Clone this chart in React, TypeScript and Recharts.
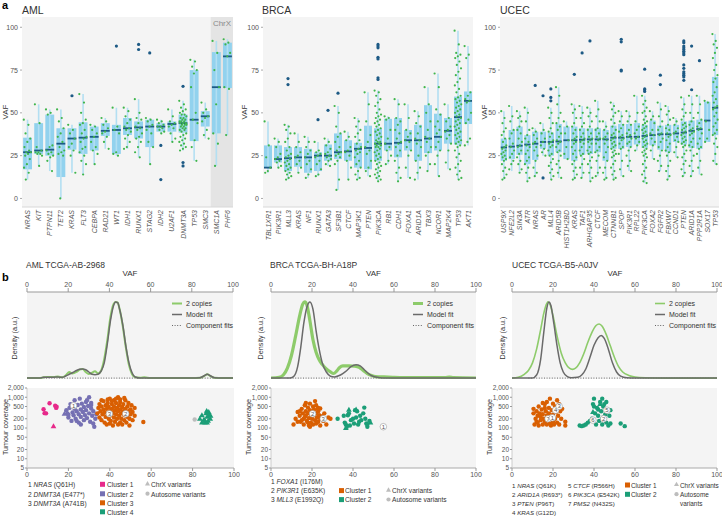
import React from 'react';
import {
  ComposedChart, ScatterChart, LineChart, Line, Scatter, XAxis, YAxis,
  ReferenceArea, ReferenceLine, CartesianGrid,
} from 'recharts';

const FONT = '"Liberation Sans", Arial, Helvetica, sans-serif';

// ---------------- Panel a data ----------------
const amlGenes = ['NRAS','KIT','PTPN11','TET2','KRAS','FLT3','CEBPA','RAD21','WT1','IDH1','RUNX1','STAG2','IDH2','U2AF1','DNMT3A','TP53','SMC3','SMC1A','PHF6'];
// [whiskerLow, q1, median, q3, whiskerHigh]
const amlBoxes = [
  [11,17,27,35.5,46],[19,26,28,44,55],[16,25,28.5,49,52],[0,12.5,32,41,52],[15,28.5,35,41,43],
  [14,26,35.5,44.5,61],[20,28,36,42,43],[29,36.5,39.5,44,47],[25,26,40,43,53],[29,37,41,47,53],
  [24,35,41.5,45,58],[20,30,42,46,47],[38,39,42,44,46],[33,39,43.5,45,52],[28,38.5,44,49,57],
  [22,33.5,46,75,81],[35,42,48,51,56],[19,38,65,85.5,92],[37,64.5,83,91,93],
];
const amlPoints = [
  [46,43,38,35,33,30,28,27,27,26,25,23,20,18,15,11],
  [55,44,30,28,27,27,26,26,25,19],
  [52,50,49,31,30,28,27,26,25,24,22,16],
  [52,47,45,41,38,36,33,30,28,27,26,25,0],
  [43,40,38,35,32,30,28,25,15],
  [61,56,50,46,44,43,40,38,36,35,33,30,29,27,25,22,20,14],
  [43,42,40,38,36,33,30,28,26,20],
  [47,45,43,41,39,38,36,33,29],
  [53,42,40,38,27,26,25],
  [53,51,48,46,44,42,41,40,39,37,35,33,30,29],
  [58,50,47,46,44,42,41,40,38,36,35,33,30,27,24],
  [47,46,45,43,42,40,38,33,30,20],
  [46,45,44,43,42,42,41,40,39,38],
  [52,48,45,44,43,42,41,38,35,33],
  [57,55,53,52,51,50,49,49,48,47,47,46,46,45,45,45,44,44,44,43,43,43,42,42,41,41,40,40,39,38,37,36,35,34,33,32,31,30,29,28],
  [81,80,77,75,73,65,50,46,44,34,30,22],
  [56,52,50,48,47,45,40,37,35],
  [92,85,75,65,55,38,32,19],
  [93,91,90,85,83,65,64,37],
];
const amlOutliers = [[],[],[],[],[60],[],[],[],[89],[],[90,87],[85],[31,11],[],[65.5,21,19],[],[],[],[]];

const brcaGenes = ['TBL1XR1','PIK3R1','MLL3','KRAS','NF1','RUNX1','GATA3','SF3B1','CTCF','MAP3K1','PTEN','PIK3CA','RB1','CDH1','FOXA1','ARID1A','TBX3','NCOR1','MAP2K4','TP53','AKT1'];
const brcaBoxes = [
  [15,18,18,31,45],[18,21,23,31,35],[11,16,23.5,30,43],[15,18.5,24,30,38],[12,15,24,29,36],
  [13,16,25,27,33],[19,22,25,31.5,35],[5,23,27,38,54],[11,22,27.5,34,39],[11,18,29,32.5,47],
  [13,17,29.5,42.5,62],[10,22,32,41,63],[20,28,32,46.5,48],[10,24,32.5,47,58],[12,28,34,40,55],
  [11,22,34,43,51],[16,26.5,35,54.5,65],[13,28,36,49.5,73],[17,32,39.5,47,55],[11,31.5,47.5,59.5,98],
  [31,43.5,57,62.5,89],
];
const brcaPoints = [
  [45,31,24,18,16,15],
  [35,33,30,26,24,23,22,21,19,18],
  [43,42,40,38,35,33,30,28,26,25,24,23,22,21,20,19,18,17,16,15,14,13,12,11],
  [38,33,30,27,25,24,22,20,18,15],
  [36,33,30,28,26,24,22,20,17,14,12],
  [33,28,27,26,25,24,22,20,17,14,13],
  [35,33,31,29,27,26,25,24,23,22,20,19],
  [54,50,42,38,36,33,30,28,27,26,25,24,22,20,11,5],
  [39,36,34,30,28,27,25,22,18,11],
  [47,45,42,40,38,36,34,32,30,29,28,27,26,24,22,20,18,16,14,12,11],
  [62,55,45,37,33,30,28,26,22,18,16,13],
  [63,62,60,58,56,54,52,50,49,48,47,46,45,44,43,42,41,40,39,38,37,36,35,34,33,33,32,32,31,31,30,30,29,28,27,26,25,24,23,22,21,20,19,18,17,16,15,14,13,12,11,10],
  [48,47,46,40,35,32,30,28,25,22,20],
  [58,55,47,45,43,40,38,35,33,32,30,28,25,22,18,15,12,10],
  [55,47,40,38,36,34,33,30,28,25,18,12],
  [51,48,44,42,38,35,34,32,30,25,22,18,15,11],
  [65,55,50,45,40,36,35,33,30,27,25,20,16],
  [73,65,52,49,45,42,40,38,36,33,30,28,25,20,13],
  [55,47,45,42,40,39,37,35,32,28,21,17],
  [98,90,85,84,83,82,80,78,76,74,72,70,68,66,64,62,60,59,58,57,56,55,54,53,52,51,50,49,48,47,46,45,44,43,42,41,40,39,38,37,36,35,34,33,32,31,30,28,26,24,22,20,18,16,14,12,11],
  [89,84,82,62,60,58,57,56,50,46,44,35,33,31],
];
const brcaOutliers = [[],[],[70,66.5],[],[],[46],[51.5],[61.5],[],[],[],[90,89,88,82.5,81.5,70.5,69.5],[],[],[],[],[],[],[],[],[]];

const ucecGenes = ['USP9X','NFE2L2','SIN3A','ATR','NRAS','AR','MLL4','ARID5B','HIST1H2BD','KRAS','TAF1','ARHGAP35','CTCF','MECOM','CTNNB1','SPOP','PIK3R1','RPL22','PIK3CA','FOXA2','FGFR2','FBXW7','CCND1','PTEN','ARID1A','PPP2R1A','SOX17','TP53'];
const ucecBoxes = [
  [11,22,29.8,35,51],[16,23,30.3,40,54],[15,25.5,30.8,42,51],[10,20,31.5,37,53],[13,22.5,32,39,41],
  [25,29,33,39,44],[11,25,33,38.5,53],[12,27,33.3,43.5,65],[23,23,34,42,45],[11,22,34,42,55],
  [12,25.5,34.3,41,54],[10,26,34.5,41,53],[13,27,34.5,41,57],[11,22,34.5,40,45],[11,29,35.5,42.5,56],
  [13,29,35.5,43.5,51],[16,30,36,43.5,51],[28,31.5,36,44,60],[9,29.5,36.5,43,60],[23,31,37,45.5,51],
  [16,28.5,37.5,42.5,56],[11,27,37.5,43,54],[24,33,38,43,47],[13,31.5,38.5,45,59],[13,29.5,39.5,45.5,60],
  [14,29,40.5,46,60],[33,33,45.5,56.5,57],[20,37,53,71,96],
];
const ucecPoints = [
  [51,47,44,41,39,37,35,33,31,30,29,28,27,26,25,24,23,22,20,18,16,14,12,11],
  [54,48,45,40,38,35,32,30,28,26,24,22,20,17],
  [51,48,47,45,42,40,38,35,33,31,30,28,26,24,22,20,17,15],
  [53,50,45,40,37,35,33,31,30,28,26,24,22,20,18,15,12,10],
  [41,39,37,35,33,32,30,28,25,22,18,15,13],
  [44,40,38,35,33,31,29,27,25],
  [53,50,47,44,41,39,38,36,34,33,32,31,30,28,26,25,23,21,19,17,15,13,11],
  [65,60,55,50,47,44,42,40,38,36,34,33,32,30,28,27,25,22,20,18,15,12],
  [45,42,38,34,30,26,23],
  [55,52,50,47,44,42,40,38,36,35,34,33,32,30,28,26,24,22,20,18,16,14,12,11],
  [54,50,47,44,42,40,38,36,35,34,33,32,30,28,26,25,23,20,18,15,12],
  [53,50,48,45,42,40,38,36,35,34,33,32,30,28,27,26,24,22,20,18,15,12,10],
  [57,52,48,45,41,40,38,36,35,34,32,30,28,27,25,22,18,15,13],
  [45,42,40,38,36,35,34,32,30,27,24,22,18,15,12,11],
  [56,54,52,50,48,46,44,42,40,38,37,36,35,34,33,32,31,30,29,28,27,26,25,24,22,20,18,16,14,12,11],
  [51,48,45,43,41,39,37,36,35,34,32,30,29,26,22,17,13],
  [51,48,45,43,40,38,37,36,35,33,32,30,28,25,22,19,16],
  [60,50,45,42,40,38,36,35,33,31,28],
  [60,57,55,53,51,50,48,46,45,44,43,42,41,40,39,38,37,36,35,34,33,32,31,30,29,28,27,26,25,24,22,20,18,16,14,12,10,9],
  [51,48,46,44,40,38,37,35,33,31,28,23],
  [56,52,48,45,42,40,38,37,35,33,30,28,25,22,19,16],
  [54,51,49,46,43,41,40,38,37,36,34,32,30,28,27,25,22,19,16,13,11],
  [47,45,43,41,39,38,36,34,33,30,27,24],
  [59,55,52,50,48,46,44,43,42,41,40,39,38,37,36,35,34,33,32,31,30,28,26,24,22,20,17,15,13],
  [60,55,50,47,45,43,41,40,39,38,37,35,33,31,30,28,25,22,19,16,13],
  [60,55,50,46,44,42,41,40,38,35,32,30,29,26,22,18,14],
  [57,56,45,40,35,33],
  [96,92,90,88,85,82,78,75,72,70,68,65,62,60,58,56,54,53,52,50,48,46,44,42,40,38,37,35,32,30,26,22,20],
];
const ucecOutliers = [[],[],[],[],[66],[60,12],[64,59,57],[],[],[72.5],[85],[92],[],[],[],[93,91.5,75,74.5],[],[],[75.5,64,63.5,62.5],[],[72,66.5],[],[],[92,91,89,88,87,86,85,84,78,76,74,73,72,71,69],[89,63.5],[80.5],[],[]];

// ---------------- Panel b density data: [VAF, density] ----------------
const amlCopies2 = [[0,0],[6,0],[8,0.01],[10,0.015],[13,0.015],[15,0.02],[17,0.01],[19,0.04],[20.5,0.08],[22,0.06],[24,0.08],[25.5,0.11],[27,0.12],[28.5,0.08],[30,0.055],[31.5,0.07],[33,0.09],[34.5,0.06],[36,0.1],[37.5,0.25],[39,0.5],[40.5,0.8],[42,0.97],[43,1.0],[44,0.99],[45,0.9],[46.5,0.68],[48,0.4],[49.5,0.17],[51,0.05],[52.5,0.01],[55,0.005],[57,0.01],[60,0],[80,0],[84,0.005],[86,0.025],[87.5,0.05],[89,0.025],[91,0.005],[95,0],[100,0]];
const amlModel = [[0,0],[6,0],[8,0.01],[10,0.012],[13,0.012],[15,0.015],[17,0.01],[19,0.03],[20.5,0.05],[22,0.07],[24,0.1],[25.5,0.115],[27,0.12],[28.5,0.11],[30,0.08],[31.5,0.05],[33,0.045],[34.5,0.05],[36,0.09],[37.5,0.2],[39,0.45],[40.5,0.75],[42,0.95],[43,1.0],[44,0.99],[45,0.9],[46.5,0.7],[48,0.42],[49.5,0.2],[51,0.07],[52.5,0.015],[55,0],[80,0],[84,0.005],[86,0.03],[87.5,0.05],[89,0.03],[91,0.005],[95,0],[100,0]];
const brcaCopies2 = [[0,0],[4,0.01],[6,0.04],[8,0.13],[10,0.3],[12,0.55],[14,0.82],[15.5,0.97],[16.5,1.0],[17.5,0.96],[19,0.75],[20.5,0.5],[22,0.34],[23.5,0.24],[25,0.18],[27,0.12],[29,0.08],[30.5,0.06],[32,0.09],[33.5,0.14],[35,0.16],[38,0.16],[41,0.155],[43,0.14],[45,0.1],[47,0.06],[49,0.035],[51,0.02],[55,0.015],[60,0.01],[70,0.005],[85,0.005],[87,0.012],[89,0.005],[100,0]];
const brcaModel = [[0,0],[9,0],[11,0.02],[13,0.15],[14.5,0.4],[16,0.72],[17.5,0.93],[19,1.0],[20.5,0.9],[22,0.62],[23.5,0.38],[25,0.2],[27,0.08],[29,0.025],[31,0.015],[33,0.03],[35,0.06],[37,0.1],[39,0.15],[41.5,0.175],[43.5,0.16],[45.5,0.11],[47.5,0.06],[50,0.02],[53,0.005],[56,0],[100,0]];
const ucecCopies2 = [[0,0],[3,0.01],[6,0.05],[8,0.1],[10,0.2],[12,0.38],[14,0.64],[15.5,0.85],[17,0.98],[17.5,1.0],[18.5,0.97],[20,0.82],[22,0.55],[24,0.33],[26,0.2],[28,0.13],[29.5,0.115],[31,0.13],[33,0.2],[35,0.32],[37,0.47],[39,0.6],[41,0.69],[42.5,0.71],[44,0.68],[46,0.57],[48,0.42],[50,0.27],[52,0.15],[54,0.08],[57,0.035],[60,0.015],[65,0.005],[75,0],[100,0]];
const ucecModel = [[0,0],[10,0],[12,0.04],[14,0.25],[15.5,0.6],[17,0.92],[18,1.0],[19,0.95],[20.5,0.7],[22,0.42],[23.5,0.2],[25,0.08],[27,0.02],[29,0.005],[32,0.01],[34,0.04],[36,0.12],[38,0.27],[40,0.43],[42,0.53],[43.5,0.56],[45,0.52],[47,0.38],[49,0.2],[51,0.08],[53,0.025],[56,0.003],[60,0],[100,0]];
const componentBase = [[8,0],[100,0]];

// ---------------- Panel b coverage data: [VAF, coverage] ----------------
const amlC1 = [[8,406],[10.9,640],[8.5,304],[9.2,300],[13.6,530],[14.3,490],[14.1,450]];
const amlC1Tri = [[12.8,114]];
const amlC2 = [[19,380],[19.5,300],[20,220],[20.5,450],[21,600],[21.5,170],[22,320],[22.5,260],[23,800],[23,420],[23.5,200],[24,350],[24.5,560],[25,280],[25,150],[25.5,900],[26,400],[26,230],[26.5,620],[27,330],[27.5,180],[27.5,480],[28,260],[28.5,700],[28.5,380],[29,210],[29.5,520],[30,1000],[30,300],[30.5,160],[31,430],[31,650],[31.5,250],[32,140],[32,350],[32.5,110],[33,200],[33.5,280],[22.5,520],[24,170],[26,130],[20,270],[29,800],[31,560]];
const amlC2Tri = [[18.1,290]];
const amlC3 = [[34,300],[34.5,450],[35,220],[35,600],[35.5,350],[36,180],[36,500],[36.5,280],[37,400],[37,750],[37.5,150],[37.5,320],[38,230],[38,550],[38.5,420],[38.5,130],[39,300],[39,650],[39.5,200],[39.5,480],[40,350],[40,900],[40.5,260],[40.5,170],[41,420],[41,600],[41.5,310],[41.5,120],[42,220],[42,500],[42,800],[42.5,380],[42.5,160],[43,280],[43,650],[43.5,450],[43.5,200],[44,350],[44,1000],[44.5,250],[44.5,550],[45,150],[45,400],[45,700],[45.5,300],[45.5,200],[46,480],[46,130],[46.5,350],[46.5,600],[47,260],[47,180],[47.5,420],[47.5,800],[48,300],[48,150],[48.5,500],[48.5,230],[49,350],[49,650],[49.5,200],[49.5,120],[50,400],[50,280],[50.5,550],[51,180],[51,330],[52,450],[52,250],[43,900],[41,750],[39,850],[45,850],[47,950],[36,800],[44,130],[40,140],[56.2,157]];
const amlC4Tri = [[83.5,200],[84.5,260],[85.5,190],[86,150],[86.5,300],[86.8,360],[87,230],[87.5,170],[87.8,330],[88,260],[88.5,200],[86,170],[84.5,150],[87,150],[88.7,250]];
const amlAuto = [[81,190]];
const amlLabels = [[22.5,530,'1'],[47.7,290,'2'],[39.8,290,'3']];

const brcaC1 = [[11,130],[12,200],[13,330],[14,250],[14.5,160],[15,420],[15.5,300],[16,200],[16,130],[16.5,550],[17,350],[17,250],[17.5,170],[18,460],[18,300],[18.5,210],[18.5,120],[19,620],[19,380],[19.5,270],[19.5,150],[20,330],[20,200],[20.5,500],[20.5,130],[21,260],[21,400],[21.5,180],[21.5,750],[22,300],[22,140],[22.5,220],[23,350],[23,160],[23.5,260],[24,200],[24,120],[25,240],[25.5,170],[26,300],[27,130],[28,220],[29,200],[17,650],[15,180],[13,160],[22,550],[19,110],[24,430],[18,150],[16.5,230],[20,260],[14,350],[23,450]];
const brcaC1Tri = [[22.6,430]];
const brcaC2 = [[32.5,200],[35.5,250],[36,150],[36.5,130],[37,110],[37.5,260],[38,300],[38.5,120],[39,180],[40,200],[40.5,140],[41,380],[41.5,220],[42,350],[42.5,130],[43,160],[43.5,250],[44,180],[45,300],[45.5,460],[46,200],[46.5,140],[47,130],[47,110],[48,170]];
const brcaC2Tri = [[38,390],[41.5,400],[48.5,150],[36.5,100]];
const brcaAuto = [[54.8,110]];
const brcaLabels = [[54.8,110,'1'],[20.3,290,'2'],[25.5,200,'3']];

const ucecC1 = [[10.5,420],[10.5,300],[11,130],[11.5,200],[12,160],[12,350],[12.5,250],[13,500],[13,120],[13.5,300],[14,180],[14,230],[14.5,400],[15,130],[15,280],[15.5,200],[16,600],[16,160],[16.5,350],[17,250],[17,130],[17.5,180],[18,450],[18,300],[18.5,900],[18.5,140],[19,220],[19.5,380],[20,270],[20,160],[20.5,130],[21,500],[21,200],[21.5,330],[22,800],[22,150],[22.5,250],[23,600],[23,130],[24,200],[24.5,420],[26,160],[26,120],[19,120],[15,650],[17,700],[12.5,150],[16,450],[20,620],[23.5,350]];
const ucecC2 = [[33,120],[34,115],[35,120],[36,130],[37,150],[38,170],[39,200],[39.5,600],[40,900],[40.5,300],[41,130],[41.5,450],[42,250],[42.5,170],[43,700],[43.5,350],[44,130],[44,900],[44.5,500],[45,200],[45.5,280],[46,700],[46,150],[46.5,350],[47,120],[47.5,250],[48,380],[48,140],[44,200],[42,400],[53,140],[55,115],[40,500],[45,600]];
const ucecC2Tri = [[39.5,330],[44,210],[43,600]];
const ucecLabels = [[17.6,200,'7'],[19.7,215,'1'],[21.3,380,'4'],[23,510,'3'],[39.5,180,'6'],[44.7,200,'2'],[46.3,380,'5']];

const covTicks = [5,10,20,50,100,200,500,1000,2000];
const vafTicks = [0,20,40,60,80,100];

// ---------------- helpers ----------------
const C_PINK = '#e7298a', C_PURPLE = '#7570b3', C_ORANGE = '#d95f02', C_TEAL = '#1b9e77', C_AUTO = '#bdbdbd';
const BG = '#f4f4f4';
const LF = 6.6; // legend font size

const jit = (j: number) => (((j * 0.618034) % 1) - 0.5) * 0.68;
const toXY = (arr: any[]) => arr.map((p) => ({ x: p[0], y: p[1], l: p[2] }));

const dot = (r: number, c: string) => (p: any) => <circle cx={p.cx} cy={p.cy} r={r} fill={c} />;
const triShape = (s: number, c: string) => (p: any) => (
  <path d={`M${p.cx},${p.cy - s} L${p.cx + s * 0.95},${p.cy + s * 0.65} L${p.cx - s * 0.95},${p.cy + s * 0.65} Z`} fill={c} />
);
const labelShape = (p: any) => (
  <g>
    <circle cx={p.cx} cy={p.cy} r={3.3} fill="#fff" stroke="#999" strokeWidth={0.6} />
    <text x={p.cx} y={p.cy + 2.2} textAnchor="middle" fontSize={6} fill="#555" fontFamily={FONT}>{p.payload.l}</text>
  </g>
);

const makeGeneTick = (genes: string[]) => (props: any) => {
  const { x, y, payload } = props;
  const name = genes[Math.floor(payload.value)];
  return (
    <text transform={`translate(${x + 2.5},${y}) rotate(-90)`} textAnchor="end" fontSize={7} fontStyle="italic" fill="#555" fontFamily={FONT}>
      {name}
    </text>
  );
};

function BoxPanel(props: any) {
  const { left, width, rightMargin, genes, boxes, pts, outs, chrX } = props;
  const n = genes.length;
  const green: any[] = [];
  const blue: any[] = [];
  pts.forEach((arr: number[], i: number) => arr.forEach((v, j) => green.push({ x: i + 0.5 + jit(j), y: v })));
  outs.forEach((arr: number[], i: number) => arr.forEach((v) => blue.push({ x: i + 0.5, y: v })));
  const half = 0.4;
  const ticks = genes.map((_: string, i: number) => i + 0.5);
  return (
    <div style={{ position: 'absolute', left, top: 0 }}>
      <ComposedChart width={width} height={260} margin={{ top: 17, right: rightMargin, left: 0, bottom: 0 }}>
        <CartesianGrid fill={BG} stroke="none" horizontal={false} vertical={false} />
        {chrX ? <ReferenceArea x1={chrX[0]} x2={chrX[1]} fill="#e4e4e4" fillOpacity={1} stroke="none" /> : null}
        {boxes.map((b: number[], i: number) => (
          <ReferenceLine key={'w' + i} segment={[{ x: i + 0.5, y: b[0] }, { x: i + 0.5, y: b[4] }]} stroke="#b3dff2" strokeWidth={1.6} />
        ))}
        {boxes.map((b: number[], i: number) => (
          <ReferenceArea key={'b' + i} x1={i + 0.5 - half} x2={i + 0.5 + half} y1={b[1]} y2={b[3]} fill="#92d2ee" fillOpacity={1} stroke="none" />
        ))}
        <Scatter data={green} shape={dot(1.1, '#3fb54b')} isAnimationActive={false} />
        {boxes.map((b: number[], i: number) => (
          <ReferenceLine key={'m' + i} segment={[{ x: i + 0.5 - half, y: b[2] }, { x: i + 0.5 + half, y: b[2] }]} stroke="#1d5a85" strokeWidth={1.8} />
        ))}
        <Scatter data={blue} shape={dot(1.6, '#1d5a85')} isAnimationActive={false} />
        <XAxis type="number" dataKey="x" domain={[0, n]} ticks={ticks} interval={0} height={53}
          tick={makeGeneTick(genes)} tickLine={false} tickSize={0} tickMargin={3} axisLine={{ stroke: '#d8d8d8' }} />
        <YAxis type="number" dataKey="y" domain={[-5, 106]} ticks={[0, 25, 50, 75, 100]} interval={0} width={22}
          tick={{ fontSize: 7, fill: '#555', fontFamily: FONT }} tickSize={2} tickMargin={2}
          tickLine={{ stroke: '#aaa' }} axisLine={false} allowDataOverflow />
      </ComposedChart>
    </div>
  );
}

function DensityPanel(props: any) {
  const { left, width, rightMargin, c2, model, greenW } = props;
  return (
    <div style={{ position: 'absolute', left, top: 262 }}>
      <LineChart width={width} height={117} margin={{ top: 10, right: rightMargin, left: 27, bottom: 0 }}>
        <CartesianGrid fill={BG} stroke="none" horizontal={false} vertical={false} />
        <XAxis type="number" dataKey="x" orientation="top" domain={[0, 100]} ticks={vafTicks} interval={0} height={20}
          tick={{ fontSize: 7, fill: '#555', fontFamily: FONT }} tickSize={4} tickMargin={1}
          tickLine={{ stroke: '#999' }} axisLine={{ stroke: '#999' }} allowDataOverflow />
        <YAxis type="number" dataKey="y" hide domain={[-0.012, 1.13]} allowDataOverflow />
        <Line data={toXY(componentBase)} dataKey="y" stroke="#555" strokeWidth={0.9} strokeDasharray="1 1.6" dot={false} isAnimationActive={false} />
        <Line data={toXY(c2)} dataKey="y" type="monotone" stroke="#8dcb6a" strokeWidth={greenW} dot={false} isAnimationActive={false} />
        <Line data={toXY(model)} dataKey="y" type="monotone" stroke="#6a6a6a" strokeWidth={1.5} dot={false} isAnimationActive={false} />
      </LineChart>
    </div>
  );
}

function CoveragePanel(props: any) {
  const { left, width, rightMargin, series, labels } = props;
  return (
    <div style={{ position: 'absolute', left, top: 385 }}>
      <ScatterChart width={width} height={97} margin={{ top: 3, right: rightMargin, left: 0, bottom: 0 }}>
        <CartesianGrid fill={BG} stroke="none" horizontal={false} vertical={false} />
        <XAxis type="number" dataKey="x" domain={[0, 100]} ticks={vafTicks} interval={0} height={14}
          tick={{ fontSize: 7, fill: '#555', fontFamily: FONT }} tickSize={3} tickMargin={1}
          tickLine={{ stroke: '#999' }} axisLine={{ stroke: '#aaa' }} allowDataOverflow />
        <YAxis type="number" dataKey="y" scale="log" domain={[5, 2000]} ticks={covTicks} interval={0} width={27}
          tickFormatter={(v: number) => v.toLocaleString('en-US')}
          tick={{ fontSize: 6.5, fill: '#555', fontFamily: FONT }} tickSize={2} tickMargin={1}
          tickLine={{ stroke: '#999' }} axisLine={{ stroke: '#ccc' }} allowDataOverflow />
        {series.map((s: any, i: number) => (
          <Scatter key={i} data={toXY(s.data)} shape={s.tri ? triShape(3, s.color) : dot(2.2, s.color)} isAnimationActive={false} />
        ))}
        <Scatter data={toXY(labels)} shape={labelShape} isAnimationActive={false} />
      </ScatterChart>
    </div>
  );
}

const T = (p: any) => (
  <text fontFamily={FONT} fill={p.fill || '#333'} fontSize={p.size || LF} fontWeight={p.bold ? 'bold' : 'normal'}
    textAnchor={p.anchor || 'start'} x={p.x} y={p.y}
    transform={p.rot ? `rotate(-90 ${p.x} ${p.y})` : undefined}>{p.children}</text>
);

const Note = ({ x, y, n, g, m, size }: any) => (
  <text x={x} y={y} fontFamily={FONT} fontSize={size || LF} fill="#333">
    {n + ' '}<tspan fontStyle="italic">{g}</tspan>{' (' + m + ')'}
  </text>
);

const DensLegend = ({ x, gw }: any) => (
  <g>
    <line x1={x} x2={x + 10} y1={303.5} y2={303.5} stroke="#8dcb6a" strokeWidth={gw} />
    <T x={x + 14} y={306} size={7}>2 copies</T>
    <line x1={x} x2={x + 10} y1={314.5} y2={314.5} stroke="#6a6a6a" strokeWidth={1.5} />
    <T x={x + 14} y={317} size={7}>Model fit</T>
    <line x1={x} x2={x + 10} y1={325.5} y2={325.5} stroke="#555" strokeWidth={0.9} strokeDasharray="1 1.6" />
    <T x={x + 14} y={328} size={7}>Component fits</T>
  </g>
);

const Sq = ({ x, y, c }: any) => <rect x={x} y={y - 5.2} width={5} height={5} fill={c} />;
const TriL = ({ x, y }: any) => <path d={`M${x + 2.5},${y - 6} L${x + 5},${y - 1.6} L${x},${y - 1.6} Z`} fill={C_AUTO} />;
const DotL = ({ x, y }: any) => <circle cx={x + 2.5} cy={y - 2.8} r={2.1} fill={C_AUTO} />;

export default function App() {
  return (
    <div style={{ position: 'absolute', left: 0, top: 0, width: 722, height: 517, background: '#fff', overflow: 'hidden' }}>
      <BoxPanel left={0} width={240} rightMargin={7} genes={amlGenes} boxes={amlBoxes} pts={amlPoints} outs={amlOutliers} chrX={[17, 19]} />
      <BoxPanel left={241} width={240} rightMargin={8} genes={brcaGenes} boxes={brcaBoxes} pts={brcaPoints} outs={brcaOutliers} />
      <BoxPanel left={478} width={244} rightMargin={3} genes={ucecGenes} boxes={ucecBoxes} pts={ucecPoints} outs={ucecOutliers} />

      <DensityPanel left={0} width={240} rightMargin={7} c2={amlCopies2} model={amlModel} greenW={2} />
      <DensityPanel left={244} width={240} rightMargin={8} c2={brcaCopies2} model={brcaModel} greenW={3.2} />
      <DensityPanel left={485} width={237} rightMargin={5} c2={ucecCopies2} model={ucecModel} greenW={1.6} />

      <CoveragePanel left={0} width={240} rightMargin={6} labels={amlLabels} series={[
        { data: amlAuto, color: C_AUTO },
        { data: amlC1, color: C_PINK }, { data: amlC1Tri, color: C_PINK, tri: true },
        { data: amlC2, color: C_PURPLE }, { data: amlC2Tri, color: C_PURPLE, tri: true },
        { data: amlC3, color: C_ORANGE },
        { data: amlC4Tri, color: C_TEAL, tri: true },
      ]} />
      <CoveragePanel left={244} width={240} rightMargin={8} labels={brcaLabels} series={[
        { data: brcaAuto, color: C_AUTO },
        { data: brcaC1, color: C_ORANGE }, { data: brcaC1Tri, color: C_ORANGE, tri: true },
        { data: brcaC2, color: C_TEAL }, { data: brcaC2Tri, color: C_TEAL, tri: true },
      ]} />
      <CoveragePanel left={485} width={237} rightMargin={5} labels={ucecLabels} series={[
        { data: ucecC1, color: C_ORANGE },
        { data: ucecC2, color: C_TEAL }, { data: ucecC2Tri, color: C_TEAL, tri: true },
      ]} />

      <svg width={722} height={517} style={{ position: 'absolute', left: 0, top: 0, pointerEvents: 'none' }}>
        {/* panel a */}
        <T x={2} y={9} size={11} bold fill="#000">a</T>
        <T x={22} y={14} size={10.5}>AML</T>
        <T x={262} y={14} size={10.5}>BRCA</T>
        <T x={500} y={14} size={10.5}>UCEC</T>
        <T x={8} y={112} size={8} rot anchor="middle">VAF</T>
        <T x={247} y={112} size={8} rot anchor="middle">VAF</T>
        <T x={487} y={112} size={8} rot anchor="middle">VAF</T>
        <T x={222} y={26} size={8} anchor="middle" fill="#8a8a8a">ChrX</T>

        {/* panel b */}
        <T x={2} y={281} size={11} bold fill="#000">b</T>
        <T x={26} y={268} size={8.5}>AML TCGA-AB-2968</T>
        <T x={270} y={268} size={8.5}>BRCA TCGA-BH-A18P</T>
        <T x={512} y={268} size={8.5}>UCEC TCGA-B5-A0JV</T>
        <T x={130} y={276} size={8} anchor="middle">VAF</T>
        <T x={373.5} y={276} size={8} anchor="middle">VAF</T>
        <T x={615} y={276} size={8} anchor="middle">VAF</T>
        <T x={17} y={338} size={7.2} rot anchor="middle">Density (a.u.)</T>
        <T x={263} y={338} size={7.2} rot anchor="middle">Density (a.u.)</T>
        <T x={505} y={338} size={7.2} rot anchor="middle">Density (a.u.)</T>
        <T x={8} y={427} size={7.2} rot anchor="middle">Tumour coverage</T>
        <T x={250.5} y={427} size={7.2} rot anchor="middle">Tumour coverage</T>
        <T x={492} y={427} size={7.2} rot anchor="middle">Tumour coverage</T>

        <DensLegend x={172} gw={2} />
        <DensLegend x={413} gw={3} />
        <DensLegend x={655} gw={1.6} />

        {/* AML legend */}
        <Note x={28} y={487} n="1" g="NRAS" m="Q61H" />
        <Note x={28} y={496.5} n="2" g="DNMT3A" m="E477*" />
        <Note x={28} y={505.5} n="3" g="DNMT3A" m="A741B" />
        <Sq x={100} y={487} c={C_PINK} /><T x={107} y={487}>Cluster 1</T>
        <Sq x={100} y={496.5} c={C_PURPLE} /><T x={107} y={496.5}>Cluster 2</T>
        <Sq x={100} y={505.5} c={C_ORANGE} /><T x={107} y={505.5}>Cluster 3</T>
        <Sq x={100} y={514.5} c={C_TEAL} /><T x={107} y={514.5}>Cluster 4</T>
        <TriL x={145} y={487} /><T x={151} y={487}>ChrX variants</T>
        <DotL x={145} y={496.5} /><T x={151} y={496.5}>Autosome variants</T>

        {/* BRCA legend */}
        <Note x={271} y={484} n="1" g="FOXA1" m="I176M" />
        <Note x={271} y={493.3} n="2" g="PIK3R1" m="E635K" />
        <Note x={271} y={502.3} n="3" g="MLL3" m="E1992Q" />
        <Sq x={339} y={493.3} c={C_ORANGE} /><T x={345} y={493.3}>Cluster 1</T>
        <Sq x={339} y={502.3} c={C_TEAL} /><T x={345} y={502.3}>Cluster 2</T>
        <TriL x={386} y={493.3} /><T x={392} y={493.3}>ChrX variants</T>
        <DotL x={386} y={502.3} /><T x={392} y={502.3}>Autosome variants</T>

        {/* UCEC legend */}
        <Note x={512} y={487.7} n="1" g="NRAS" m="Q61K" size={6.2} />
        <Note x={512} y={497} n="2" g="ARID1A" m="R693*" size={6.2} />
        <Note x={512} y={506} n="3" g="PTEN" m="P96T" size={6.2} />
        <Note x={512} y={515} n="4" g="KRAS" m="G12D" size={6.2} />
        <Note x={568} y={487.7} n="5" g="CTCF" m="R566H" size={6.2} />
        <Note x={568} y={497} n="6" g="PIK3CA" m="E542K" size={6.2} />
        <Note x={568} y={506} n="7" g="PMS2" m="N432S" size={6.2} />
        <Sq x={625} y={487.7} c={C_ORANGE} /><T x={631} y={487.7} size={6.4}>Cluster 1</T>
        <Sq x={625} y={497} c={C_TEAL} /><T x={631} y={497} size={6.4}>Cluster 2</T>
        <TriL x={674} y={487.7} /><T x={680} y={487.7} size={6.4}>ChrX variants</T>
        <DotL x={674} y={497} /><T x={680} y={497} size={6.4}>Autosome</T>
        <T x={680} y={506} size={6.4}>variants</T>
      </svg>
    </div>
  );
}
